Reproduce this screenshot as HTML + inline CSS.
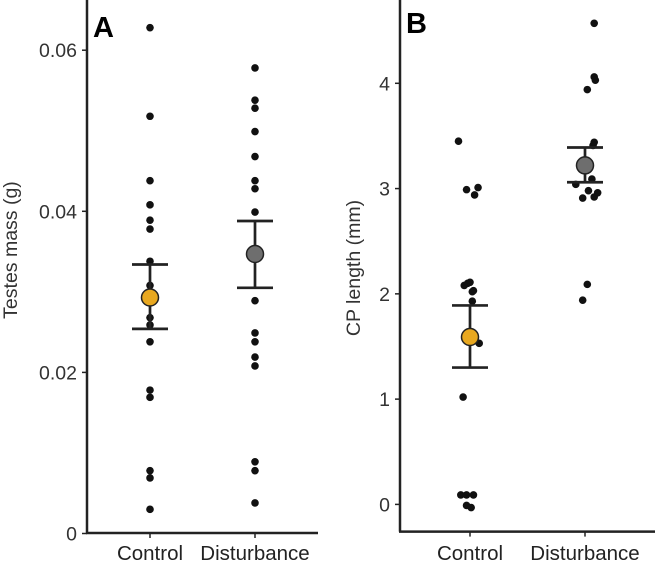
<!DOCTYPE html>
<html><head><meta charset="utf-8"><style>
html,body{margin:0;padding:0;background:#fff}
svg{display:block;font-family:"Liberation Sans",sans-serif}
</style></head><body>
<svg id="c" width="655" height="570" viewBox="0 0 655 570"></svg>
<script>
const categories=["Control","Disturbance"];
const aControl=[0.0628,0.0518,0.0438,0.0408,0.0389,0.0378,0.0338,0.0308,0.0299,0.0268,0.0259,0.0238,0.0178,0.0169,0.0078,0.0069,0.0030];
const aDisturb=[0.0578,0.0538,0.0528,0.0499,0.0468,0.0438,0.0428,0.0399,0.0289,0.0249,0.0238,0.0219,0.0208,0.0089,0.0078,0.0038];
const aMeans=[0.0293,0.0347];
const aLow=[0.0254,0.0305];
const aHigh=[0.0334,0.0388];
const aTicks=[0,0.02,0.04,0.06];
const aTickLabels=["0","0.02","0.04","0.06"];
const bControl=[3.45,2.99,3.01,2.94,2.10,2.11,2.08,2.03,2.02,1.93,1.53,1.02,0.09,0.09,0.09,-0.01,-0.03];
const bControlJit=[-0.10,-0.03,0.07,0.04,-0.02,0.00,-0.05,0.03,0.02,0.02,0.08,-0.06,-0.08,-0.03,0.03,-0.03,0.01];
const bDisturb=[4.57,4.06,4.03,3.94,3.44,3.41,3.04,3.09,2.98,2.96,2.91,2.92,2.09,1.94];
const bDisturbJit=[0.08,0.08,0.09,0.02,0.08,0.07,-0.08,0.06,0.03,0.11,-0.02,0.08,0.02,-0.02];
const bMeans=[1.59,3.22];
const bLow=[1.30,3.06];
const bHigh=[1.89,3.39];
const bTicks=[0,1,2,3,4];
const bTickLabels=["0","1","2","3","4"];

const NS="http://www.w3.org/2000/svg";
const svg=document.getElementById('c');
function mk(t,a,p){const e=document.createElementNS(NS,t);for(const k in a)e.setAttribute(k,a[k]);(p||svg).appendChild(e);return e;}

function panel(cfg){
  const g=mk('g',{});
  
  
  const y=v=>cfg.y0+(v-cfg.v0)*(cfg.y1-cfg.y0)/(cfg.v1-cfg.v0);
  const x=i=>cfg.cx[i];
  const band=cfg.cx[1]-cfg.cx[0];
  const ya=mk('line',{x1:cfg.ax,y1:0,x2:cfg.ax,y2:cfg.bottom,stroke:'#222','stroke-width':2.5},g);
  
  
  const xa=mk('line',{x1:cfg.ax-1,y1:cfg.bottom,x2:cfg.xend,y2:cfg.bottom,stroke:'#222','stroke-width':2.5},g);
  
  
  cfg.ticks.forEach((t,i)=>{
    const ty=y(t);
    const tl=mk('line',{x1:cfg.ax-5,y1:ty,x2:cfg.ax,y2:ty,stroke:'#222','stroke-width':1.5},g);
    
    
    const tx=mk('text',{x:cfg.ax-10,y:ty+7,'text-anchor':'end','font-size':19.5,fill:'#333'},g);
    tx.textContent=cfg.tickLabels[i];
    
    
  });
  categories.forEach((c,i)=>{
    const tl=mk('line',{x1:x(i),y1:cfg.bottom,x2:x(i),y2:cfg.bottom+5,stroke:'#222','stroke-width':1.5},g);
    
    
    const tx=mk('text',{x:x(i),y:560,'text-anchor':'middle','font-size':20.5,fill:'#222'},g);
    tx.textContent=c;
    
    
  });
  const yt=mk('text',{x:0,y:0,'text-anchor':'middle','font-size':19.5,fill:'#333',transform:`translate(${cfg.titleX},${cfg.titleY}) rotate(-90)`},g);
  yt.textContent=cfg.title;
  
  
  const lt=mk('text',{x:cfg.ax+6,y:cfg.letterY,'font-size':29,'font-weight':'bold',fill:'#000'},g);
  lt.textContent=cfg.letter;
  
  
  [cfg.s0,cfg.s1].forEach((s,i)=>{
    const jit=i===0?cfg.j0:cfg.j1;
    s.forEach((v,k)=>{
      const p=mk('circle',{cx:x(i)+(jit?jit[k]*band:0),cy:y(v),r:3.8,fill:'#111'},g);
      
      
    });
  });
  cfg.means.forEach((m,i)=>{
    const eg=mk('g',{stroke:'#222','stroke-width':2.7},g);
    
    
    mk('line',{x1:x(i),y1:y(cfg.low[i]),x2:x(i),y2:y(cfg.high[i])},eg);
    mk('line',{x1:x(i)-18,y1:y(cfg.low[i]),x2:x(i)+18,y2:y(cfg.low[i])},eg);
    mk('line',{x1:x(i)-18,y1:y(cfg.high[i]),x2:x(i)+18,y2:y(cfg.high[i])},eg);
    const mc=mk('circle',{cx:x(i),cy:y(m),r:8.5,fill:i===0?'#E8A820':'#6e6e6e',stroke:'#222','stroke-width':1.5},g);
    
    
  });
}
panel({name:'panel-a',ax:87,bottom:533,xend:318,cx:[150,255],y0:533.5,v0:0,y1:50.2,v1:0.06,
  ticks:aTicks,tickLabels:aTickLabels,title:'Testes mass (g)',titleX:17,titleY:250,letter:'A',letterY:37,
  s0:aControl,s1:aDisturb,j0:null,j1:null,means:aMeans,low:aLow,high:aHigh});
panel({name:'panel-b',ax:400,bottom:531.6,xend:655,cx:[470,585],y0:504.4,v0:0,y1:83.3,v1:4,
  ticks:bTicks,tickLabels:bTickLabels,title:'CP length (mm)',titleX:360,titleY:268,letter:'B',letterY:33,
  s0:bControl,s1:bDisturb,j0:bControlJit,j1:bDisturbJit,means:bMeans,low:bLow,high:bHigh});
</script>
</body></html>
